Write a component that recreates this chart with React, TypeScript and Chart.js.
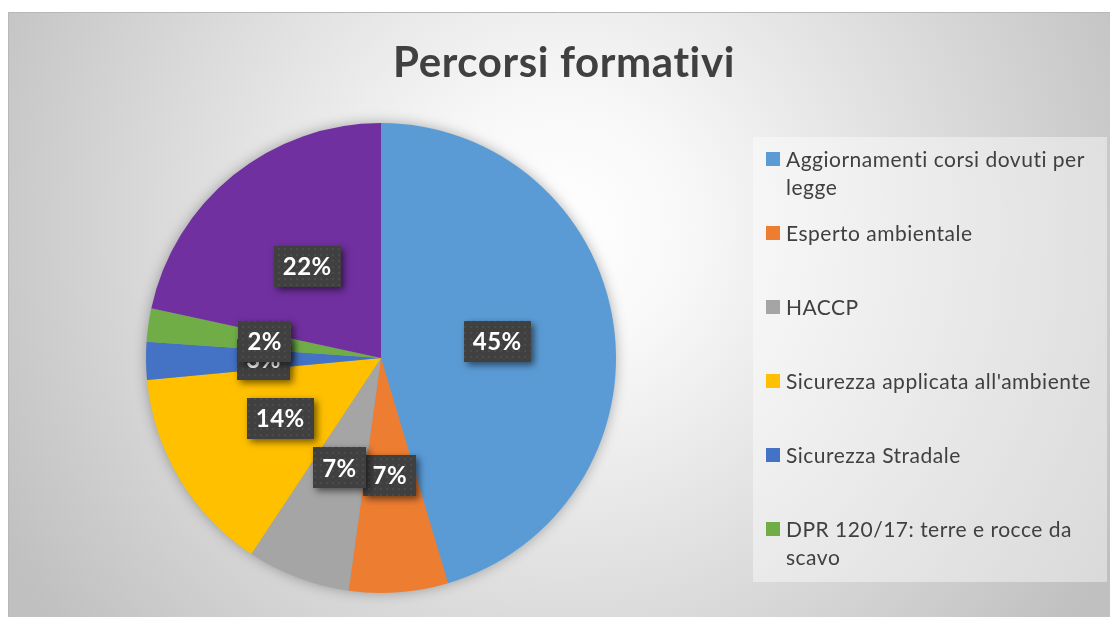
import React, { useEffect, useRef } from "react";
import { Chart, registerables } from "chart.js";

Chart.register(...registerables);

const chartTitle = "Percorsi formativi";
const categories = [
  "Aggiornamenti corsi dovuti per legge",
  "Esperto ambientale",
  "HACCP",
  "Sicurezza applicata all'ambiente",
  "Sicurezza Stradale",
  "DPR 120/17: terre e rocce da scavo",
  "Altri corsi",
];
const shares = [45.4, 6.8, 7.1, 14.2, 2.6, 2.3, 21.6];
const sliceColors = ["#5B9BD5", "#ED7D31", "#A5A5A5", "#FFC000", "#4472C4", "#70AD47", "#7030A0"];
const legendVisibleCount = 6;

const FONT = "Lato, 'Open Sans', sans-serif";
const TEXT_COLOR = "#404040";

function wrapText(ctx: CanvasRenderingContext2D, text: string, maxWidth: number): string[] {
  const words = text.split(" ");
  const lines: string[] = [];
  let cur = "";
  for (const w of words) {
    const test = cur ? cur + " " + w : w;
    if (ctx.measureText(test).width > maxWidth && cur) {
      lines.push(cur);
      cur = w;
    } else {
      cur = test;
    }
  }
  if (cur) lines.push(cur);
  return lines;
}

function makeDotPattern(ctx: CanvasRenderingContext2D) {
  const c = document.createElement("canvas");
  c.width = 6;
  c.height = 6;
  const p = c.getContext("2d")!;
  p.fillStyle = "#404040";
  p.fillRect(0, 0, 6, 6);
  p.fillStyle = "#4b4b4b";
  p.fillRect(2, 2, 2, 2);
  return ctx.createPattern(c, "repeat");
}

const backgroundPlugin = {
  id: "bgPlugin",
  beforeDraw(chart: any) {
    const ctx = chart.ctx as any;
    const W = chart.width;
    const H = chart.height;
    ctx.save();
    ctx.fillStyle = "#ffffff";
    ctx.fillRect(0, 0, W, H);
    const g = ctx.createRadialGradient(560, 230, 0, 560, 230, 640);
    g.addColorStop(0, "#ffffff");
    g.addColorStop(0.2, "#f8f8f8");
    g.addColorStop(1, "#c0c0c0");
    ctx.fillStyle = g;
    ctx.fillRect(8, 12, W - 8, H - 12);
    ctx.strokeStyle = "#b8b8b8";
    ctx.lineWidth = 1;
    ctx.beginPath();
    ctx.moveTo(8.5, H);
    ctx.lineTo(8.5, 12.5);
    ctx.lineTo(W, 12.5);
    ctx.stroke();

    // title
    ctx.fillStyle = TEXT_COLOR;
    ctx.font = "bold 42px " + FONT;
    ctx.letterSpacing = "0.6px";
    ctx.textAlign = "center";
    ctx.textBaseline = "alphabetic";
    ctx.fillText(chartTitle, 564, 77);

    // legend box
    const lx = 753, ly = 137, lw = 354, lh = 445;
    ctx.fillStyle = "rgba(255,255,255,0.42)";
    ctx.fillRect(lx, ly, lw, lh);

    ctx.font = "21px " + FONT;
    ctx.letterSpacing = "0.5px";
    ctx.textAlign = "left";
    for (let i = 0; i < legendVisibleCount; i++) {
      const base = 167 + i * 74;
      ctx.fillStyle = sliceColors[i];
      ctx.fillRect(766, base - 15, 14, 14);
      ctx.fillStyle = TEXT_COLOR;
      const lines = wrapText(ctx, categories[i], 314);
      lines.forEach((ln, k) => ctx.fillText(ln, 786, base + k * 28));
    }
    ctx.letterSpacing = "0px";
    ctx.restore();
  },
  beforeDatasetsDraw(chart: any) {
    const meta = chart.getDatasetMeta(0);
    const arc = meta.data[0];
    if (!arc) return;
    const { x, y, outerRadius } = arc.getProps(["x", "y", "outerRadius"], true);
    const ctx = chart.ctx as CanvasRenderingContext2D;
    ctx.save();
    ctx.shadowColor = "rgba(0,0,0,0.35)";
    ctx.shadowBlur = 14;
    ctx.fillStyle = "#999";
    ctx.beginPath();
    ctx.arc(x, y, outerRadius - 1, 0, Math.PI * 2);
    ctx.fill();
    ctx.restore();
  },
  afterDatasetsDraw(chart: any) {
    const ctx = chart.ctx as any;
    const meta = chart.getDatasetMeta(0);
    const pattern = makeDotPattern(ctx);
    ctx.save();
    ctx.font = "bold 24px " + FONT;
    ctx.letterSpacing = "0.5px";
    ctx.textAlign = "center";
    ctx.textBaseline = "middle";
    meta.data.forEach((el: any, i: number) => {
      const pos = el.tooltipPosition(true);
      const text = Math.round(shares[i]) + "%";
      const w = Math.round(ctx.measureText(text).width + 18);
      const h = 41;
      const bx = Math.round(pos.x - w / 2);
      const by = Math.round(pos.y - h / 2);
      ctx.save();
      ctx.shadowColor = "rgba(0,0,0,0.55)";
      ctx.shadowBlur = 7;
      ctx.shadowOffsetX = 3;
      ctx.shadowOffsetY = 3;
      ctx.fillStyle = "#404040";
      ctx.fillRect(bx, by, w, h);
      ctx.restore();
      ctx.fillStyle = pattern || "#404040";
      ctx.fillRect(bx, by, w, h);
      ctx.fillStyle = "#ffffff";
      ctx.fillText(text, pos.x, pos.y + 1);
    });
    ctx.letterSpacing = "0px";
    ctx.restore();
  },
};

export default function App() {
  const canvasRef = useRef<HTMLCanvasElement>(null);

  useEffect(() => {
    if (!canvasRef.current) return;
    const chart = new Chart(canvasRef.current, {
      type: "pie",
      data: {
        labels: categories,
        datasets: [
          {
            data: shares,
            backgroundColor: sliceColors,
            borderWidth: 0,
            hoverOffset: 0,
          },
        ],
      },
      options: {
        responsive: false,
        animation: false,
        devicePixelRatio: 1,
        layout: { padding: { left: 146, top: 123, right: 494, bottom: 24 } },
        plugins: {
          legend: { display: false },
          title: { display: false },
          tooltip: { enabled: false },
        },
      },
      plugins: [backgroundPlugin],
    });
    return () => chart.destroy();
  }, []);

  return (
    <div style={{ position: "fixed", left: 0, top: 0, width: 1110, height: 617 }}>
      <canvas ref={canvasRef} width={1110} height={617} style={{ display: "block" }} />
    </div>
  );
}
